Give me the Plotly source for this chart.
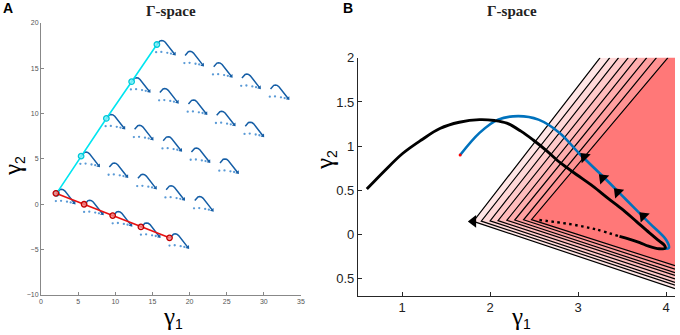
import plotly.graph_objects as go

# ---------------- Panel A data ----------------
cyan_x = [2.1, 5.4, 8.8, 12.2, 15.6]
cyan_y = [1.2, 5.3, 9.45, 13.5, 17.6]
red_x = [2.0, 5.8, 9.65, 13.45, 17.3]
red_y = [1.2, 0.0, -1.25, -2.5, -3.7]
a_xticks = [0, 5, 10, 15, 20, 25, 30, 35]
a_yticks = [-10, -5, 0, 5, 10, 15, 20]

# glyph dotted offsets (relative to glyph start)
glyph_dot_dx = [-0.1, 0.6, 1.4, 1.9]
glyph_dot_dy = [-0.85, -0.82, -0.92, -1.0]

# ---------------- Panel B data ----------------
blue_x = [1.66, 1.88, 2.09, 2.32, 2.55, 2.79, 3.01, 3.28, 3.54, 3.81, 4.00, 4.03, 3.98]
blue_y = [0.90, 1.15, 1.30, 1.34, 1.30, 1.15, 0.92, 0.66, 0.40, 0.13, -0.06, -0.15, -0.16]

black_x = [0.60, 0.80, 1.01, 1.22, 1.43, 1.65, 1.88, 2.05, 2.19, 2.35, 2.49, 2.64, 2.80,
           2.98, 3.17, 3.34, 3.51, 3.66, 3.81, 3.92, 3.98, 3.99, 3.92, 3.80, 3.70, 3.58, 3.47]
black_y = [0.515, 0.72, 0.92, 1.07, 1.20, 1.27, 1.30, 1.29, 1.26, 1.17, 1.07, 0.95, 0.81,
           0.68, 0.545, 0.41, 0.28, 0.15, 0.02, -0.07, -0.12, -0.15, -0.16, -0.13, -0.09, -0.05, -0.02]

dotted_x = [2.56, 2.9, 3.2, 3.47]
dotted_y = [0.165, 0.12, 0.06, -0.02]

arrow_x = [3.07, 3.28, 3.45, 3.74]
arrow_y = [0.88, 0.64, 0.48, 0.21]
left_arrow_x = [1.81]
left_arrow_y = [0.15]

wedge_apex_x = [1.81, 1.90, 2.00, 2.09, 2.19, 2.28, 2.38, 2.47]
wedge_apex_y = [0.15, 0.153, 0.156, 0.159, 0.162, 0.165, 0.168, 0.17]
wedge_top_x = [3.25, 3.36, 3.46, 3.57, 3.67, 3.78, 3.89, 4.02]      # where upper edge meets y=2
wedge_right_y = [-0.61, -0.57, -0.54, -0.50, -0.46, -0.43, -0.39, -0.35]  # where lower edge meets x=4.1
wedge_colors = ['#FFE6E6', '#FFD8D8', '#FFCACA', '#FFBCBC', '#FFAEAE', '#FFA0A0', '#FF9292', '#FF7878']

b_xticks = [1, 2, 3, 4]
b_yticks = [-0.5, 0, 0.5, 1, 1.5, 2]
b_yticktext = ['0.5', '0', '0.5', '1', '1.5', '2']

B_XMAX, B_YMAX = 4.1, 2.0

fig = go.Figure()

# ---------- Panel A ----------
gxs, gys, dxs, dys, exs, eys = [], [], [], [], [], []
for i in range(len(cyan_x)):
    for j in range(len(red_x)):
        ox = cyan_x[i] + red_x[j] - red_x[0]
        oy = cyan_y[i] + red_y[j] - red_y[0]
        for bx, by in zip(blue_x[:-1], blue_y[:-1]):
            gxs.append(ox + bx - blue_x[0])
            gys.append(oy + by - blue_y[0])
        gxs.append(None); gys.append(None)
        exs.append(ox + blue_x[-2] - blue_x[0]); eys.append(oy + blue_y[-2] - blue_y[0])
        for ddx, ddy in zip(glyph_dot_dx, glyph_dot_dy):
            dxs.append(ox + ddx); dys.append(oy + ddy)

fig.add_trace(go.Scatter(x=dxs, y=dys, mode='markers', xaxis='x', yaxis='y',
                         marker=dict(size=2.3, color='#5A9AD6'), hoverinfo='skip'))
fig.add_trace(go.Scatter(x=gxs, y=gys, mode='lines', xaxis='x', yaxis='y',
                         line=dict(color='#155EA6', width=1.5), hoverinfo='skip'))
fig.add_trace(go.Scatter(x=exs, y=eys, mode='markers', xaxis='x', yaxis='y',
                         marker=dict(symbol='triangle-up', angle=140, size=4, color='#155EA6'),
                         hoverinfo='skip'))
fig.add_trace(go.Scatter(x=cyan_x, y=cyan_y, mode='lines+markers', xaxis='x', yaxis='y',
                         line=dict(color='#00E5F0', width=1.6),
                         marker=dict(symbol='circle', size=5.5, color='rgba(130,240,250,0.8)',
                                     line=dict(color='#00C8D8', width=1.3))))
fig.add_trace(go.Scatter(x=red_x, y=red_y, mode='lines+markers', xaxis='x', yaxis='y',
                         line=dict(color='#E81010', width=1.6),
                         marker=dict(symbol='circle', size=5.5, color='rgba(250,130,130,0.8)',
                                     line=dict(color='#C00000', width=1.3))))

# ---------- Panel B ----------
for ax_, ay_, tx, ry, col in zip(wedge_apex_x, wedge_apex_y, wedge_top_x, wedge_right_y, wedge_colors):
    fig.add_trace(go.Scatter(x=[ax_, tx, B_XMAX, B_XMAX, ax_], y=[ay_, B_YMAX, B_YMAX, ry, ay_],
                             mode='lines', fill='toself', fillcolor=col,
                             line=dict(width=0, color=col), xaxis='x2', yaxis='y2',
                             hoverinfo='skip'))
for ax_, ay_, tx, ry in zip(wedge_apex_x, wedge_apex_y, wedge_top_x, wedge_right_y):
    fig.add_trace(go.Scatter(x=[tx, ax_, B_XMAX], y=[B_YMAX, ay_, ry], mode='lines',
                             line=dict(color='black', width=1.2), xaxis='x2', yaxis='y2',
                             hoverinfo='skip'))

fig.add_trace(go.Scatter(x=blue_x, y=blue_y, mode='lines', xaxis='x2', yaxis='y2',
                         line=dict(color='#0072BD', width=2.6, shape='spline'), hoverinfo='skip'))
fig.add_trace(go.Scatter(x=black_x, y=black_y, mode='lines', xaxis='x2', yaxis='y2',
                         line=dict(color='black', width=2.9, shape='spline'), hoverinfo='skip'))
fig.add_trace(go.Scatter(x=dotted_x, y=dotted_y, mode='lines', xaxis='x2', yaxis='y2',
                         line=dict(color='black', width=2.4, dash='2.5px,3.5px', shape='spline'),
                         hoverinfo='skip'))
fig.add_trace(go.Scatter(x=blue_x[:1], y=blue_y[:1], mode='markers', xaxis='x2', yaxis='y2',
                         marker=dict(size=3, color='red'), hoverinfo='skip'))
fig.add_trace(go.Scatter(x=arrow_x, y=arrow_y, mode='markers', xaxis='x2', yaxis='y2',
                         marker=dict(symbol='triangle-up', angle=-45, size=11, color='black'),
                         hoverinfo='skip'))
fig.add_trace(go.Scatter(x=left_arrow_x, y=left_arrow_y, mode='markers', xaxis='x2', yaxis='y2',
                         marker=dict(symbol='triangle-left', size=11, color='black'),
                         hoverinfo='skip'))

W, H = 680, 335
def px(x): return x / W
def py(y): return 1 - y / H

a_tick = dict(family='Liberation Sans, Arial', size=7, color='#555555')
b_tick = dict(family='Liberation Sans, Arial', size=13, color='#222222')

fig.update_layout(
    width=W, height=H, margin=dict(l=0, r=0, t=0, b=0, autoexpand=False),
    paper_bgcolor='white', plot_bgcolor='rgba(0,0,0,0)', showlegend=False,
    xaxis=dict(domain=[px(41), px(301)], range=[0, 35], tickvals=a_xticks,
               showline=True, linecolor='#888888', linewidth=1, ticks='inside', ticklen=3,
               tickcolor='#888888', showgrid=False, zeroline=False, tickfont=a_tick,
               anchor='y', fixedrange=True, automargin=False),
    yaxis=dict(domain=[py(295), py(22.7)], range=[-10, 20], tickvals=a_yticks,
               showline=True, linecolor='#888888', linewidth=1, ticks='inside', ticklen=3,
               tickcolor='#888888', showgrid=False, zeroline=False, tickfont=a_tick,
               anchor='x', fixedrange=True, automargin=False),
    xaxis2=dict(domain=[px(358), px(675)], range=[0.5, B_XMAX], tickvals=b_xticks,
                showline=True, linecolor='#262626', linewidth=1.2, ticks='inside', ticklen=4,
                tickcolor='#262626', showgrid=False, zeroline=False, tickfont=b_tick,
                anchor='y2', fixedrange=True, automargin=False),
    yaxis2=dict(domain=[py(295.7), py(57.7)], range=[-0.69, B_YMAX], tickvals=b_yticks,
                ticktext=b_yticktext,
                showline=True, linecolor='#262626', linewidth=1.2, ticks='inside', ticklen=4,
                tickcolor='#262626', showgrid=False, zeroline=False, tickfont=b_tick,
                anchor='x2', fixedrange=True, automargin=False),
)

ann = []
lab = dict(family='Liberation Sans, Arial', size=14, color='black')
ann.append(dict(text='<b>A</b>', x=px(1), y=py(-2), xanchor='left', yanchor='top', font=lab))
ann.append(dict(text='<b>B</b>', x=px(341), y=py(-2), xanchor='left', yanchor='top', font=lab))
tfont = dict(family='Liberation Serif, Times New Roman', size=15, color='#222222')
ann.append(dict(text='<b>Γ-space</b>', x=px(171), y=py(11), xanchor='center', yanchor='middle', font=tfont))
ann.append(dict(text='<b>Γ-space</b>', x=px(512), y=py(11), xanchor='center', yanchor='middle', font=tfont))
gfont = dict(family='Liberation Sans, Arial', size=20, color='black')
g1 = '<span style="font-family:Liberation Serif;font-size:25px">γ</span><sub>1</sub>'
g2 = '<span style="font-family:Liberation Serif;font-size:25px">γ</span><sub>2</sub>'
ann.append(dict(text=g1, x=px(173), y=py(317), xanchor='center', yanchor='middle', font=gfont))
ann.append(dict(text=g2, x=px(13), y=py(166), xanchor='center', yanchor='middle', font=gfont, textangle=-90))
ann.append(dict(text=g1, x=px(521), y=py(317), xanchor='center', yanchor='middle', font=gfont))
ann.append(dict(text=g2, x=px(325), y=py(160), xanchor='center', yanchor='middle', font=gfont, textangle=-90))
for a in ann:
    a.update(xref='paper', yref='paper', showarrow=False)
fig.update_layout(annotations=ann)

fig.write_html("out.html", config={'displayModeBar': False},
               post_script=("document.documentElement.style.margin='0';"
                            "document.documentElement.style.overflow='hidden';"
                            "document.body.style.margin='0';document.body.style.padding='0';"
                            "document.body.style.overflow='hidden';"
                            "var d=document.getElementsByClassName('plotly-graph-div')[0];"
                            "d.style.position='fixed';d.style.left='0px';d.style.top='0px';"))
